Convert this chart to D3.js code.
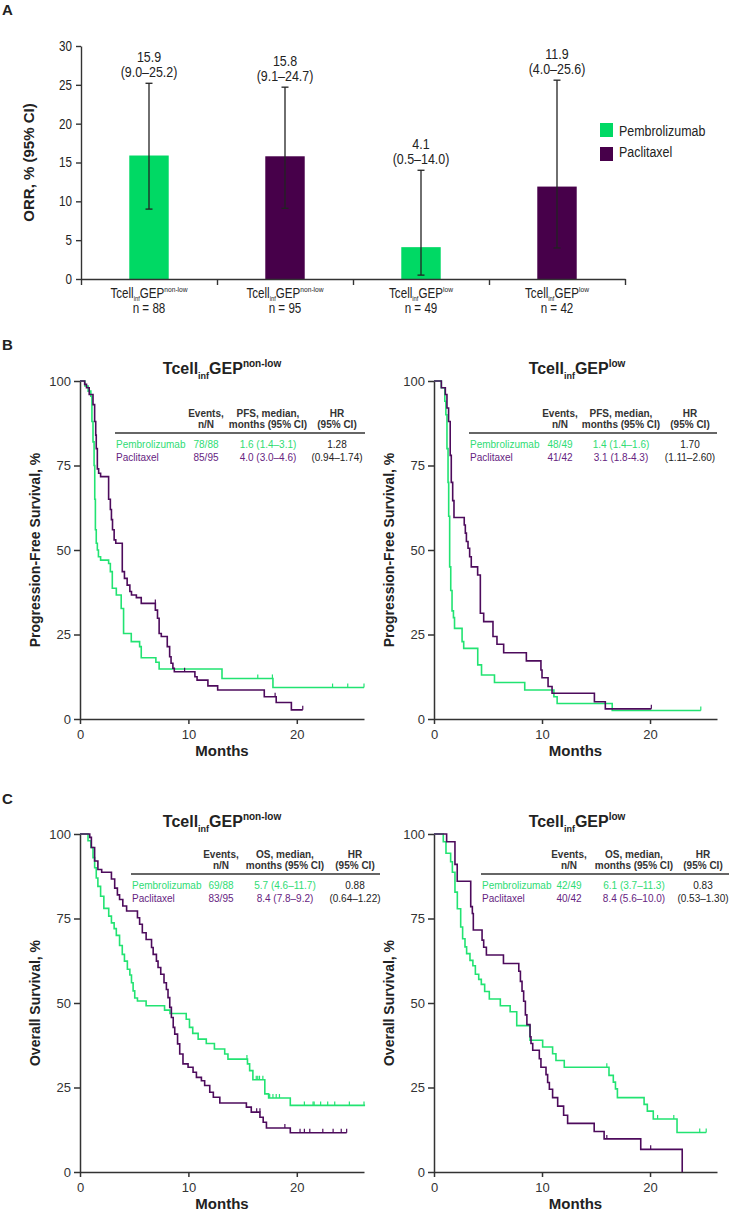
<!DOCTYPE html>
<html>
<head>
<meta charset="utf-8">
<script src="https://cdn.jsdelivr.net/npm/d3@7"></script>
<style>
  body { margin: 0; background: #fff; }
  svg { color: #222; }
  svg text { font-family: 'Liberation Sans', Arial, sans-serif; }
</style>
</head>
<body>
<svg id="fig" width="729" height="1212" fill="#222"></svg>
<script>
// ---------- Panel A data (ORR) ----------
var orrArm = ["Pembrolizumab", "Paclitaxel", "Pembrolizumab", "Paclitaxel"]
var orrSubgroup = ["non-low", "non-low", "low", "low"]
var orrValue = [15.9, 15.8, 4.1, 11.9]
var orrLow = [9.0, 9.1, 0.5, 4.0]
var orrHigh = [25.2, 24.7, 14.0, 25.6]
var orrN = [88, 95, 49, 42]
var orrTicks = [0, 5, 10, 15, 20, 25, 30]
var arms = ["Pembrolizumab", "Paclitaxel"]

// ---------- KM data: [month, survival %] step points ----------
var pfsNonLowPembro = [[0,100],[0.45,98.5],[0.75,97],[1.0,95.5],[1.1,88],[1.2,82],[1.3,75],[1.36,65],[1.42,56],[1.5,52],[1.6,50],[1.7,48],[1.9,47],[2.64,46],[2.8,43.6],[2.98,38.7],[3.35,36.7],[3.8,32.7],[4.02,25.3],[4.73,22.9],[5.5,21.4],[5.65,18.1],[7.0,16.8],[7.3,14.8],[13.1,12],[17.8,9.3],[26.2,9.3]]
var pfsNonLowPembroCens = [[16.4,12],[17.75,12],[23.3,9.3],[24.7,9.3],[26.2,9.3]]
var pfsNonLowPacli = [[0,100],[0.43,99],[0.6,98],[0.85,96],[1.2,93],[1.35,88],[1.45,84],[1.5,80],[1.6,74],[1.72,72.7],[1.9,71.7],[2.64,65],[2.8,62],[2.9,59],[3.0,56],[3.15,53],[3.3,52],[3.9,43.6],[4.1,41.6],[4.35,39.6],[4.6,37.7],[4.75,36.7],[5.2,35.9],[5.65,34.2],[6.95,32.2],[7.15,29.8],[7.3,25.3],[7.5,24.4],[8.05,21.4],[8.27,18.4],[8.4,16.5],[8.57,15],[8.7,14],[10.6,12.5],[10.8,11.5],[11.8,9.8],[12.7,8.6],[17.0,6.6],[18.1,4.9],[19.5,2.7],[20.55,2.7]]
var pfsNonLowPacliCens = [[6.95,34.2],[9.65,14],[18.0,6.6],[20.55,2.7]]

var pfsLowPembro = [[0,100],[0.68,98],[1.0,94],[1.1,90],[1.2,80],[1.3,70],[1.36,60],[1.45,45],[1.55,38],[1.67,32],[1.8,30],[1.9,26.8],[2.6,22.9],[2.75,20.9],[4.05,16],[4.4,13],[5.6,10.8],[8.4,8.6],[11.1,6.6],[11.4,4.6],[16.5,2.5],[24.7,2.5]]
var pfsLowPembroCens = [[24.7,2.5]]
var pfsLowPacli = [[0,100],[0.68,98],[1.05,96],[1.2,92],[1.35,88],[1.5,78],[1.6,70],[1.73,64.6],[1.85,59.6],[2.8,57.4],[2.9,55],[3.0,52.5],[3.15,50.5],[3.3,48],[3.45,45],[4.04,42.6],[4.29,31.3],[4.6,28.8],[5.46,24.4],[5.83,22.1],[6.45,19.6],[8.55,17.2],[9.9,14.5],[10.0,12.2],[10.56,9.6],[10.93,7.6],[14.85,5.1],[15.86,3],[20.12,3]]
var pfsLowPacliCens = [[20.12,3]]

var osNonLowPembro = [[0,100],[0.74,98],[1.0,96],[1.2,93],[1.35,90],[1.5,87],[1.65,84.5],[1.9,81.6],[2.2,78],[2.65,75.7],[2.9,73.7],[3.15,72],[3.35,70],[3.65,67],[3.9,64.4],[4.1,62.4],[4.37,60],[4.6,58.3],[4.75,56],[4.9,53.6],[5.05,51.5],[5.3,50.6],[6.1,49.2],[7.8,47.9],[8.3,46.9],[9.8,45.2],[10.1,42.8],[10.4,41],[10.9,39.3],[11.65,38],[12.4,36.4],[13.35,34.9],[13.65,33.4],[15.45,32],[15.65,30],[15.95,27.3],[17.05,23.1],[17.4,21.9],[19.4,19.7],[26.3,19.7]]
var osNonLowPembroCens = [[15.4,33.4],[16.26,27.3],[16.4,27.3],[16.56,27.3],[16.87,27.3],[17.5,21.9],[17.8,21.9],[18.1,21.9],[18.4,21.9],[20.7,19.7],[21.5,19.7],[21.6,19.7],[22.2,19.7],[22.85,19.7],[23.5,19.7],[24.85,19.7],[26.2,19.7]]
var osNonLowPacli = [[0,100],[0.9,99],[1.05,96],[1.35,92],[1.65,89.5],[2.0,88.7],[2.9,86.7],[3.2,84],[3.45,82],[3.65,80.6],[3.95,78.7],[4.3,77.2],[5.3,75.2],[5.5,73.3],[5.75,70.8],[6.1,68.8],[6.6,66.4],[6.75,64.4],[7.05,62.4],[7.2,60.5],[7.45,58.5],[7.75,56],[7.97,54],[8.12,51.6],[8.28,48.7],[8.43,45.7],[8.6,42.8],[8.74,40.8],[9.0,37.9],[9.2,34.9],[9.5,32],[9.97,31],[10.43,29.5],[10.74,28],[11.2,27],[11.5,25.6],[11.97,23.6],[12.3,22.1],[12.9,20.4],[15.35,19.2],[15.8,17.7],[16.6,16.2],[16.9,14.7],[17.2,13],[19.4,11.6],[24.6,11.6]]
var osNonLowPacliCens = [[16.3,17.7],[16.6,17.7],[18.9,13],[20.3,11.6],[20.7,11.6],[21.2,11.6],[22.4,11.6],[23.35,11.6],[24.1,11.6],[24.6,11.6]]

var osLowPembro = [[0,100],[0.86,97.7],[1.11,94.3],[1.54,91.8],[1.7,88.7],[1.94,82.8],[2.16,77.9],[2.47,72.5],[2.65,69],[2.87,66.6],[3.02,64.6],[3.33,62.6],[3.6,61],[3.83,58.5],[4.14,57],[4.38,55.5],[4.69,53.4],[5.12,51.2],[6.14,49.2],[7.05,47.4],[7.66,43.3],[8.89,39],[10.06,37],[10.98,35],[11.29,33],[12.06,31],[16.2,28.6],[16.6,26.6],[16.8,24.6],[16.98,22],[19.45,20],[19.75,18],[20.3,15.7],[22.5,11.7],[25.2,11.7]]
var osLowPembroCens = [[16.0,31],[20.7,15.7],[22.2,15.7],[24.6,11.7],[25.2,11.7]]
var osLowPacli = [[0,100],[1.17,97.7],[1.94,91],[2.15,86],[3.4,78.5],[3.55,76.5],[3.64,71.6],[4.45,68.6],[4.6,66.5],[4.85,64.2],[6.43,61.7],[7.85,59.4],[8.0,56.4],[8.15,53.5],[8.3,50.5],[8.46,46.5],[8.6,43.6],[8.89,40],[8.98,38],[9.14,36],[9.75,33.5],[9.9,31],[10.37,28.8],[10.52,26.5],[10.68,24.5],[10.98,22],[11.45,19.5],[12.0,16.8],[12.37,14.4],[14.83,12],[15.75,9.8],[19.14,6.7],[22.98,0]]
var osLowPacliCens = [[16.0,9.8],[20.06,6.7]]

// table texts
var tableArms = ["Pembrolizumab", "Paclitaxel"]
var pfsNonLowEvents = ["78/88", "85/95"]
var pfsNonLowMedian = ["1.6 (1.4\u20133.1)", "4.0 (3.0\u20134.6)"]
var pfsNonLowHR = ["1.28", "(0.94\u20131.74)"]
var pfsLowEvents = ["48/49", "41/42"]
var pfsLowMedian = ["1.4 (1.4\u20131.6)", "3.1 (1.8-4.3)"]
var pfsLowHR = ["1.70", "(1.11\u20132.60)"]
var osNonLowEvents = ["69/88", "83/95"]
var osNonLowMedian = ["5.7 (4.6\u201311.7)", "8.4 (7.8\u20139.2)"]
var osNonLowHR = ["0.88", "(0.64\u20131.22)"]
var osLowEvents = ["42/49", "40/42"]
var osLowMedian = ["6.1 (3.7\u201311.3)", "8.4 (5.6\u201310.0)"]
var osLowHR = ["0.83", "(0.53\u20131.30)"]
var kmXTicks = [0, 10, 20]
var kmYTicks = [0, 25, 50, 75, 100]

// colours
var barColor = { "Pembrolizumab": "#00d964", "Paclitaxel": "#47004a" }
var lineColor = ["#22e372", "#4d0b5c"]
var textColor = ["#2fdc74", "#66237f"]
var axisColor = "#333"
var narrow = 0.83   // no narrow font installed, squeeze Liberation Sans instead

var svg = d3.select("#fig")

// panel letters
svg.append("text").attr("x", 2).attr("y", 15).attr("font-size", 15).attr("font-weight", "bold").text("A")
svg.append("text").attr("x", 2).attr("y", 350).attr("font-size", 15).attr("font-weight", "bold").text("B")
svg.append("text").attr("x", 2).attr("y", 804).attr("font-size", 15).attr("font-weight", "bold").text("C")

// writes Tcell(inf)GEP(sup) into a text element
function tcellText (sel, sup, size, subSize, subShift, supShift) {
  sel.append("tspan").attr("font-size", size).text("Tcell")
  sel.append("tspan").attr("font-size", subSize).attr("dy", subShift).text("inf")
  sel.append("tspan").attr("font-size", size).attr("dy", -subShift).text("GEP")
  sel.append("tspan").attr("font-size", subSize + 1).attr("dy", -supShift).text(sup)
}

// condensed text helper
function narrowText (parent, x, y, size, anchor) {
  return parent.append("text")
    .attr("transform", "translate(" + x + "," + y + ") scale(" + narrow + ",1)")
    .attr("text-anchor", anchor || "start")
    .attr("font-size", size)
}

// ================= Panel A =================
var gA = svg.append("g")
var aLeft = 81, aRight = 625, aTop = 46, aBottom = 279

var xA = d3.scaleBand().domain(d3.range(orrValue.length)).range([aLeft, aRight]).padding(0)
var yA = d3.scaleLinear().domain([0, 30]).range([aBottom, aTop])
var barW = xA.bandwidth() * 0.29

// bars
gA.selectAll(".bar").data(orrValue).enter().append("rect")
  .attr("class", "bar")
  .attr("x", (d, i) => xA(i) + xA.bandwidth() / 2 - barW / 2)
  .attr("y", d => yA(d))
  .attr("width", barW)
  .attr("height", d => aBottom - yA(d))
  .attr("fill", (d, i) => barColor[orrArm[i]])

// error bars + labels
orrValue.forEach(function (v, i) {
  var cx = xA(i) + xA.bandwidth() / 2
  var g = gA.append("g").attr("stroke", "#222").attr("stroke-width", 1.3)
  g.append("line").attr("x1", cx).attr("x2", cx).attr("y1", yA(orrLow[i])).attr("y2", yA(orrHigh[i]))
  g.append("line").attr("x1", cx - 3.5).attr("x2", cx + 3.5).attr("y1", yA(orrLow[i])).attr("y2", yA(orrLow[i]))
  g.append("line").attr("x1", cx - 3.5).attr("x2", cx + 3.5).attr("y1", yA(orrHigh[i])).attr("y2", yA(orrHigh[i]))
  narrowText(gA, cx, yA(orrHigh[i]) - 21, 15, "middle").text(v.toFixed(1))
  narrowText(gA, cx, yA(orrHigh[i]) - 6, 15, "middle")
    .text("(" + orrLow[i].toFixed(1) + "\u2013" + orrHigh[i].toFixed(1) + ")")
  // category label
  var lab = narrowText(gA, cx, 298, 14, "middle")
  tcellText(lab, orrSubgroup[i], 14, 7, 3, 6)
  narrowText(gA, cx, 313, 14, "middle").text("n = " + orrN[i])
})

// axes
var yAxisA = gA.append("g").attr("transform", "translate(" + aLeft + ",0)")
  .call(d3.axisLeft(yA).tickValues(orrTicks).tickSize(5).tickSizeOuter(0).tickPadding(4))
yAxisA.selectAll("text").attr("font-size", 14)
  .attr("x", -9 / narrow).attr("transform", "scale(" + narrow + ",1)")

var xEdges = d3.scaleLinear().domain([0, orrValue.length]).range([aLeft, aRight])
gA.append("g").attr("transform", "translate(0," + aBottom + ")")
  .call(d3.axisBottom(xEdges).tickValues(d3.range(orrValue.length + 1)).tickFormat("").tickSize(6).tickSizeOuter(0))
gA.selectAll(".domain, .tick line").attr("stroke", axisColor).attr("stroke-width", 1.4)

svg.append("text")
  .attr("transform", "translate(34," + (aTop + aBottom) / 2 + ") rotate(-90)")
  .attr("text-anchor", "middle").attr("font-size", 15).attr("font-weight", "bold")
  .text("ORR, % (95% CI)")

// legend
arms.forEach(function (a, i) {
  gA.append("rect").attr("x", 600).attr("y", 123 + i * 24).attr("width", 13).attr("height", 14).attr("fill", barColor[a])
  narrowText(gA, 619, 136 + i * 21, 15).text(a)
})

// ================= KM panels =================
function drawKM (cfg) {
  var g = svg.append("g")
  var x = d3.scaleLinear().domain([0, 26.2]).range([cfg.left, cfg.right])
  var y = d3.scaleLinear().domain([0, 100]).range([cfg.bottom, cfg.top])

  g.append("g").attr("transform", "translate(0," + cfg.bottom + ")")
    .call(d3.axisBottom(x).tickValues(kmXTicks).tickSize(5).tickSizeOuter(0).tickPadding(6))
  g.append("g").attr("transform", "translate(" + cfg.left + ",0)")
    .call(d3.axisLeft(y).tickValues(kmYTicks).tickSize(6).tickSizeOuter(0).tickPadding(3))
  g.selectAll(".domain, .tick line").attr("stroke", axisColor).attr("stroke-width", 1.5)
  g.selectAll(".tick text").attr("font-size", 13).attr("fill", "#333")

  g.append("text").attr("x", (cfg.left + cfg.right) / 2).attr("y", cfg.bottom + 37)
    .attr("text-anchor", "middle").attr("font-size", 15).attr("font-weight", "bold").text("Months")
  g.append("text")
    .attr("transform", "translate(" + (cfg.left - 40) + "," + (cfg.top + cfg.bottom) / 2 + ") rotate(-90)")
    .attr("text-anchor", "middle").attr("font-size", 14).attr("font-weight", "bold").text(cfg.yLabel)

  var title = g.append("text").attr("x", cfg.titleX).attr("y", cfg.top - 7)
    .attr("text-anchor", "middle").attr("font-weight", "bold")
  tcellText(title, cfg.sup, 16, 9, 5, 7)

  // curves
  var line = d3.line().x(d => x(d[0])).y(d => y(d[1])).curve(d3.curveStepAfter)
  cfg.curves.forEach(function (c, i) {
    g.append("path").datum(c).attr("d", line).attr("fill", "none")
      .attr("stroke", lineColor[i]).attr("stroke-width", 1.6)
  })
  cfg.censors.forEach(function (c, i) {
    g.selectAll(null).data(c).enter().append("line")
      .attr("x1", d => x(d[0])).attr("x2", d => x(d[0]))
      .attr("y1", d => y(d[1])).attr("y2", d => y(d[1]) - 4)
      .attr("stroke", lineColor[i]).attr("stroke-width", 1.2)
  })

  // table
  var t = cfg.table, r = t.ruleY
  g.append("line").attr("x1", t.x0).attr("x2", t.x1).attr("y1", r).attr("y2", r)
    .attr("stroke", "#333").attr("stroke-width", 1.3)
  var heads = [["Events,", "n/N"], [cfg.endpoint + ", median,", "months (95% CI)"], ["HR", "(95% CI)"]]
  heads.forEach(function (h, j) {
    h.forEach(function (s, k) {
      g.append("text").attr("x", t.cols[j]).attr("y", r - 16 + k * 11).attr("text-anchor", "middle")
        .attr("font-size", 10).attr("font-weight", "bold").attr("fill", "#333").text(s)
    })
  })
  tableArms.forEach(function (a, k) {
    var yy = r + 14.5 + k * 13.5
    g.append("text").attr("x", t.x0 + 1).attr("y", yy).attr("font-size", 10).attr("fill", textColor[k]).text(a)
    g.append("text").attr("x", t.cols[0]).attr("y", yy).attr("text-anchor", "middle").attr("font-size", 10)
      .attr("fill", textColor[k]).text(cfg.events[k])
    g.append("text").attr("x", t.cols[1]).attr("y", yy).attr("text-anchor", "middle").attr("font-size", 10)
      .attr("fill", textColor[k]).text(cfg.median[k])
    g.append("text").attr("x", t.cols[2]).attr("y", yy + (k == 0 ? 0.5 : 0)).attr("text-anchor", "middle").attr("font-size", 10)
      .attr("fill", "#222").text(cfg.hr[k])
  })
}

drawKM({ left: 80, right: 364, top: 381, bottom: 719, titleX: 222, sup: "non-low",
  yLabel: "Progression-Free Survival, %", endpoint: "PFS",
  curves: [pfsNonLowPembro, pfsNonLowPacli], censors: [pfsNonLowPembroCens, pfsNonLowPacliCens],
  events: pfsNonLowEvents, median: pfsNonLowMedian, hr: pfsNonLowHR,
  table: { x0: 115, x1: 365, ruleY: 433, cols: [206, 268, 337] } })

drawKM({ left: 434, right: 717, top: 381, bottom: 719, titleX: 577, sup: "low",
  yLabel: "Progression-Free Survival, %", endpoint: "PFS",
  curves: [pfsLowPembro, pfsLowPacli], censors: [pfsLowPembroCens, pfsLowPacliCens],
  events: pfsLowEvents, median: pfsLowMedian, hr: pfsLowHR,
  table: { x0: 469, x1: 717, ruleY: 433, cols: [560, 621, 690] } })

drawKM({ left: 80, right: 364, top: 834, bottom: 1172, titleX: 222, sup: "non-low",
  yLabel: "Overall Survival, %", endpoint: "OS",
  curves: [osNonLowPembro, osNonLowPacli], censors: [osNonLowPembroCens, osNonLowPacliCens],
  events: osNonLowEvents, median: osNonLowMedian, hr: osNonLowHR,
  table: { x0: 131, x1: 380, ruleY: 874, cols: [221, 285, 355] } })

drawKM({ left: 434, right: 717, top: 834, bottom: 1172, titleX: 577, sup: "low",
  yLabel: "Overall Survival, %", endpoint: "OS",
  curves: [osLowPembro, osLowPacli], censors: [osLowPembroCens, osLowPacliCens],
  events: osLowEvents, median: osLowMedian, hr: osLowHR,
  table: { x0: 481, x1: 729, ruleY: 874, cols: [569, 634, 703] } })
</script>
</body>
</html>
